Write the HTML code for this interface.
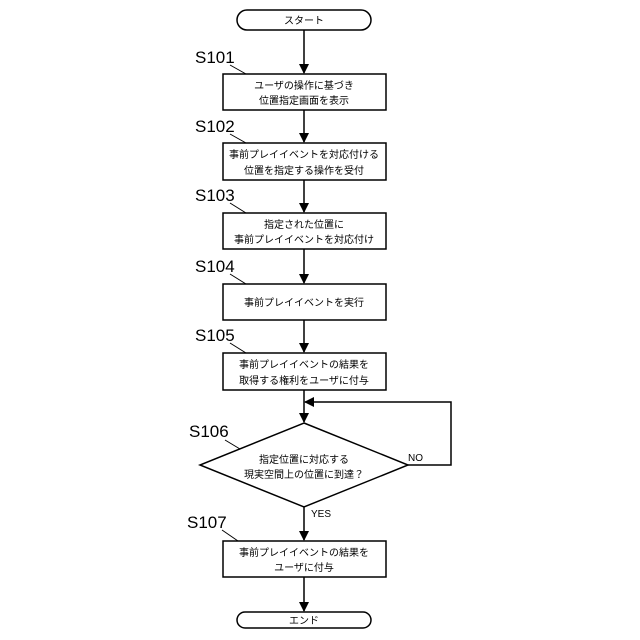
<!DOCTYPE html>
<html><head><meta charset="utf-8"><style>
html,body{margin:0;padding:0;background:#fff;}
svg{display:block;}
.t{font-family:"Liberation Sans","Noto Sans CJK JP",sans-serif;font-size:10px;fill:#000;text-anchor:middle;}
.s{font-family:"Liberation Sans",sans-serif;font-size:17px;fill:#000;}
.y{font-family:"Liberation Sans",sans-serif;font-size:10px;fill:#000;}
</style></head><body>
<svg width="640" height="640" viewBox="0 0 640 640" xmlns="http://www.w3.org/2000/svg">
<defs><marker id="a" markerWidth="10" markerHeight="10" refX="9" refY="5" orient="auto" markerUnits="userSpaceOnUse"><path d="M0,0 L10,5 L0,10 z" fill="#000"/></marker></defs>
<g stroke="#000" stroke-width="1.5" fill="none">
<rect x="237" y="10" width="134" height="20" rx="10"/>
<rect x="223" y="74" width="163" height="36"/>
<rect x="223" y="143" width="163" height="37"/>
<rect x="223" y="213" width="163" height="36"/>
<rect x="223" y="284" width="163" height="36"/>
<rect x="223" y="353" width="163" height="37"/>
<polygon points="304,423 408,465 304,507 200,465"/>
<rect x="223" y="541" width="163" height="36"/>
<rect x="237" y="612" width="134" height="16" rx="8"/>
<line x1="304" y1="30" x2="304" y2="73" marker-end="url(#a)"/>
<line x1="304" y1="110" x2="304" y2="142" marker-end="url(#a)"/>
<line x1="304" y1="180" x2="304" y2="212" marker-end="url(#a)"/>
<line x1="304" y1="249" x2="304" y2="283" marker-end="url(#a)"/>
<line x1="304" y1="320" x2="304" y2="352" marker-end="url(#a)"/>
<line x1="304" y1="390" x2="304" y2="422" marker-end="url(#a)"/>
<line x1="304" y1="507" x2="304" y2="540" marker-end="url(#a)"/>
<line x1="304" y1="577" x2="304" y2="611" marker-end="url(#a)"/>
<polyline points="408,465 451,465 451,402 305,402" marker-end="url(#a)"/>
<g stroke-width="1">
<line x1="230" y1="65" x2="246" y2="74"/>
<line x1="230" y1="134" x2="246" y2="143"/>
<line x1="230" y1="203" x2="246" y2="213"/>
<line x1="230" y1="274" x2="246" y2="284"/>
<line x1="230" y1="343" x2="246" y2="353"/>
<line x1="225" y1="440" x2="240" y2="449"/>
<line x1="222" y1="530" x2="238" y2="541"/>
</g>
</g>
<text class="t" x="304" y="24">スタート</text>
<text class="t" x="304" y="89">ユーザの操作に基づき</text>
<text class="t" x="304" y="104">位置指定画面を表示</text>
<text class="t" x="304" y="158">事前プレイイベントを対応付ける</text>
<text class="t" x="304" y="174">位置を指定する操作を受付</text>
<text class="t" x="304" y="228">指定された位置に</text>
<text class="t" x="304" y="243">事前プレイイベントを対応付け</text>
<text class="t" x="304" y="306">事前プレイイベントを実行</text>
<text class="t" x="304" y="368">事前プレイイベントの結果を</text>
<text class="t" x="304" y="384">取得する権利をユーザに付与</text>
<text class="t" x="304" y="463">指定位置に対応する</text>
<text class="t" x="304" y="478">現実空間上の位置に到達？</text>
<text class="t" x="304" y="556">事前プレイイベントの結果を</text>
<text class="t" x="304" y="571">ユーザに付与</text>
<text class="t" x="304" y="624">エンド</text>
<text class="y" x="408" y="461">NO</text>
<text class="y" x="311" y="517">YES</text>
<text class="s" x="195" y="63">S101</text>
<text class="s" x="195" y="132">S102</text>
<text class="s" x="195" y="201">S103</text>
<text class="s" x="195" y="272">S104</text>
<text class="s" x="195" y="341">S105</text>
<text class="s" x="189" y="437">S106</text>
<text class="s" x="187" y="528">S107</text>
</svg>
</body></html>
